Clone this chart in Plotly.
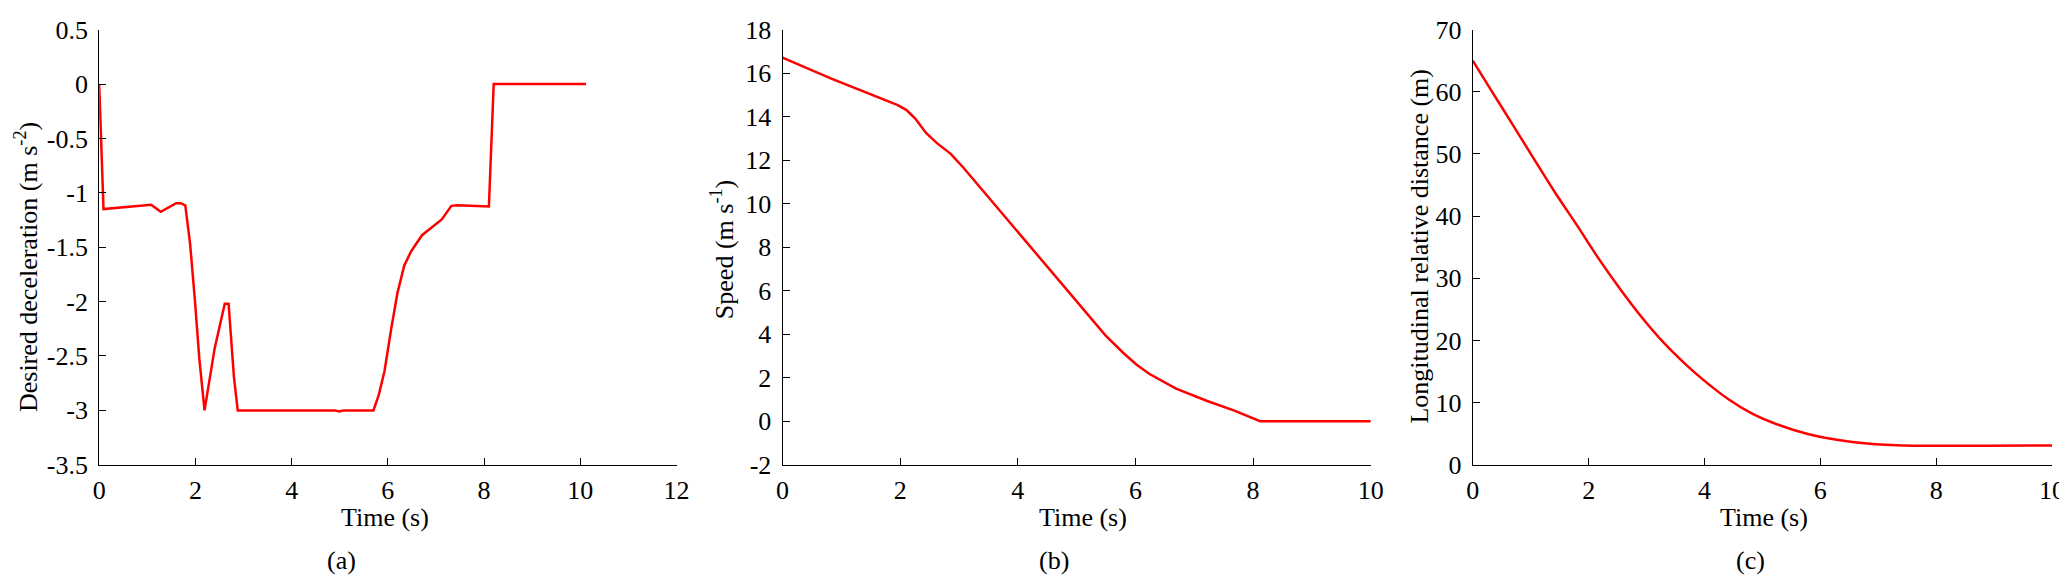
import plotly.graph_objects as go

# ---------------- data ----------------
# (a) desired deceleration
time_a = [0, 0.09, 1.08, 1.28, 1.60, 1.69, 1.79, 1.89, 1.99, 2.08, 2.19, 2.40, 2.61, 2.69,
          2.80, 2.88, 4.90, 4.99, 5.08, 5.70, 5.81, 5.93, 6.07, 6.20, 6.34, 6.48, 6.71,
          6.89, 7.12, 7.32, 7.44, 8.10, 8.20, 10.12]
decel_a = [0, -1.15, -1.11, -1.175, -1.095, -1.095, -1.115, -1.47, -1.99, -2.52, -3.0, -2.43,
           -2.02, -2.02, -2.69, -3.0, -3.0, -3.01, -3.0, -3.0, -2.86, -2.64, -2.25, -1.92,
           -1.67, -1.54, -1.39, -1.33, -1.245, -1.12, -1.115, -1.125, 0, 0]

# (b) speed
time_b = [0, 0.83, 1.95, 2.11, 2.26, 2.44, 2.63, 2.86, 3.08, 3.46, 3.98, 4.59, 5.04, 5.49,
          5.79, 6.02, 6.24, 6.69, 7.22, 7.67, 8.12, 10.0]
speed_b = [16.71, 15.75, 14.54, 14.30, 13.90, 13.25, 12.77, 12.29, 11.64, 10.43, 8.74, 6.81,
           5.36, 3.95, 3.15, 2.60, 2.17, 1.50, 0.93, 0.50, 0.0, 0.0]

# (c) longitudinal relative distance
time_c = [0, 0.30, 0.67, 1.05, 1.42, 1.80, 2.17, 2.55, 2.92, 3.30, 3.67, 4.0, 4.42,
          4.79, 5.17, 5.54, 5.99, 6.52, 7.04, 7.42, 10.0]
dist_c = [65.0, 60.5, 55.0, 49.3, 43.8, 38.5, 33.2, 28.2, 23.7, 19.6, 16.2, 13.5, 10.5,
          8.4, 6.8, 5.6, 4.5, 3.7, 3.25, 3.1, 3.1]

# ticks
xticks_a = [0, 2, 4, 6, 8, 10, 12]
xticks_bc = [0, 2, 4, 6, 8, 10]
yticks_a = [0.5, 0, -0.5, -1, -1.5, -2, -2.5, -3, -3.5]
yticklabels_a = ["0.5", "0", "-0.5", "-1", "-1.5", "-2", "-2.5", "-3", "-3.5"]
yticks_b = [18, 16, 14, 12, 10, 8, 6, 4, 2, 0, -2]
yticklabels_b = ["18", "16", "14", "12", "10", "8", "6", "4", "2", "0", "-2"]
yticks_c = [70, 60, 50, 40, 30, 20, 10, 0]

# ---------------- layout helpers ----------------
W, H = 2067, 582
FONT = "Liberation Serif"
FS = 26


def px_x(v):
    return v / W


def px_y(v):
    return 1 - v / H


top, bottom = 8, 466
dom_y = [px_y(bottom), px_y(top)]
dom_a = [px_x(85), px_x(668)]
dom_b = [px_x(775), px_x(1369)]
dom_c = [px_x(1472), px_x(2057)]

axis_common = dict(
    showline=True, linecolor="black", linewidth=1,
    ticks="inside", ticklen=7, tickwidth=1, tickcolor="black",
    showgrid=False, zeroline=False, mirror=False,
    ticklabeloverflow="allow",
    tickfont=dict(family=FONT, size=FS, color="black"),
)
xcommon = dict(ticklabelstandoff=2, **axis_common)
ycommon = dict(ticklabelstandoff=5, **axis_common)

fig = go.Figure()
line = dict(color="#ff0000", width=2.5)
fig.add_trace(go.Scatter(x=time_a, y=decel_a, mode="lines", line=line, xaxis="x", yaxis="y"))
fig.add_trace(go.Scatter(x=time_b, y=speed_b, mode="lines", line=line, xaxis="x2", yaxis="y2"))
fig.add_trace(go.Scatter(x=time_c, y=dist_c, mode="lines",
                         line=dict(shape="spline", smoothing=0.8, **line), xaxis="x3", yaxis="y3"))

fig.update_layout(
    width=W, height=H,
    margin=dict(l=0, r=0, t=0, b=0),
    paper_bgcolor="white", plot_bgcolor="white",
    showlegend=False,
    xaxis=dict(domain=dom_a, range=[0, 12], tickvals=xticks_a, anchor="y", **xcommon),
    yaxis=dict(domain=dom_y, range=[-3.5, 0.5], tickvals=yticks_a, ticktext=yticklabels_a,
               anchor="x", **ycommon),
    xaxis2=dict(domain=dom_b, range=[0, 10], tickvals=xticks_bc, anchor="y2", **xcommon),
    yaxis2=dict(domain=dom_y, range=[-2, 18], tickvals=yticks_b, ticktext=yticklabels_b,
                anchor="x2", **ycommon),
    xaxis3=dict(domain=dom_c, range=[0, 10], tickvals=xticks_bc, anchor="y3", **xcommon),
    yaxis3=dict(domain=dom_y, range=[0, 70], tickvals=yticks_c, anchor="x3", **ycommon),
)

ann_font = dict(family=FONT, size=FS, color="black")
annotations = [
    # x titles
    dict(text="Time (s)", x=px_x(374), y=px_y(521)),
    dict(text="Time (s)", x=px_x(1078), y=px_y(521)),
    dict(text="Time (s)", x=px_x(1766), y=px_y(521)),
    # panel labels
    dict(text="(a)", x=px_x(330), y=px_y(567)),
    dict(text="(b)", x=px_x(1049), y=px_y(567)),
    dict(text="(c)", x=px_x(1752), y=px_y(567)),
    # y titles
    dict(text="Desired deceleration (m s<sup>-2</sup>)", x=px_x(11), y=px_y(258), textangle=-90),
    dict(text="Speed (m s<sup>-1</sup>)", x=px_x(714), y=px_y(240), textangle=-90),
    dict(text="Longitudinal relative distance (m)", x=px_x(1418), y=px_y(236), textangle=-90),
]
for a in annotations:
    fig.add_annotation(xref="paper", yref="paper", showarrow=False, xanchor="center",
                       yanchor="middle", font=ann_font, **a)

fig.write_html("out.html")
